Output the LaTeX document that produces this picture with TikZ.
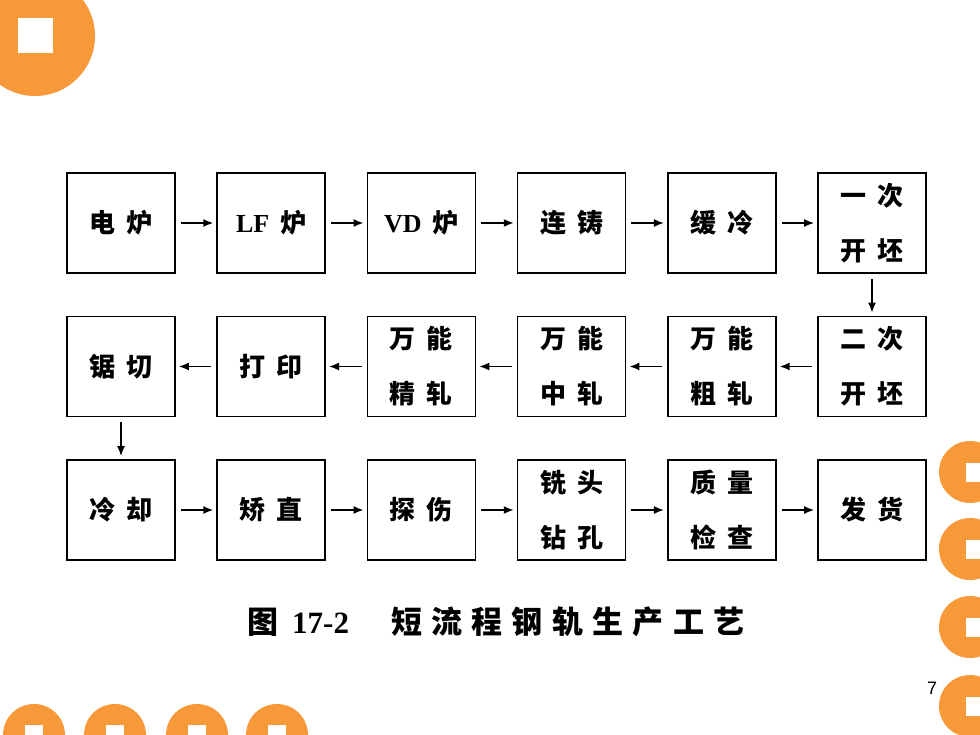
\documentclass[tikz,border=0pt]{standalone}
\usepackage{fontspec}
\setmainfont{Liberation Serif}
\newfontfamily\cjk{Noto Sans CJK SC}
\newfontfamily\pagefont{Liberation Sans}
\usetikzlibrary{math, arrows.meta}
\definecolor{dotorange}{RGB}{247,153,57}

\begin{document}
\begin{tikzpicture}[x=1pt, y=-1pt, >={Latex[length=10pt, width=8pt]}]
\tikzstyle{stage}=[rectangle, draw=black, line width=1.7pt, minimum width=108pt, minimum height=100pt, align=center, inner sep=0pt, font=\fontsize{26}{55}\selectfont\cjk\bfseries\addfontfeature{LetterSpace=42}]
\tikzstyle{kline} = [->, black, line width=1.6pt, shorten <=5pt, shorten >=3pt]
\tikzstyle{dot} = [dotorange]

\useasboundingbox (0, 0) rectangle (980, 735);
\clip (0, 0) rectangle (980, 735);

% Slide decoration
\fill[dot] (35, 36) circle (60);
\fill[white] (17.5, 18) rectangle (52.5, 53);
\foreach \y in {472, 549, 627, 706} {
    \fill[dot] (970, \y) circle (31);
    \fill[white] (965.5, \y - 9.5) rectangle (984.5, \y + 9.5);
};
\foreach \x in {34, 115, 197, 277} {
    \fill[dot] (\x, 735) circle (31);
    \fill[white] (\x - 9, 725) rectangle (\x + 9, 745);
};

% Draw the process stages
\tikzmath{
    \firstx = 121;
    \firsty = 223;
    \colstep = 150.2;
    \rowstep = 143.5;
}

\foreach \id/\txt/\c/\r in {
    eaf/{电炉}/0/0, lf/{{\rmfamily\bfseries LF}\hspace{11pt}炉}/1/0, vd/{{\rmfamily\bfseries VD}\hspace{11pt}炉}/2/0,
    cc/{连铸}/3/0, slow/{缓冷}/4/0, bda/{一次\\开坯}/5/0,
    bdb/{二次\\开坯}/5/1, rough/{万能\\粗轧}/4/1, inter/{万能\\中轧}/3/1,
    finish/{万能\\精轧}/2/1, stamp/{打印}/1/1, saw/{锯切}/0/1,
    cool/{冷却}/0/2, straight/{矫直}/1/2, ut/{探伤}/2/2,
    drill/{铣头\\钻孔}/3/2, qc/{质量\\检查}/4/2, ship/{发货}/5/2}
    \node[stage] (\id) at (\firstx + \c * \colstep, \firsty + \r * \rowstep) {\txt};

% Connect them
\foreach \a/\b in {eaf/lf, lf/vd, vd/cc, cc/slow, slow/bda, bda/bdb,
    bdb/rough, rough/inter, inter/finish, finish/stamp, stamp/saw, saw/cool,
    cool/straight, straight/ut, ut/drill, drill/qc, qc/ship}
    \draw [kline] (\a) -- (\b);

\node [anchor=west, inner sep=0pt, font=\fontsize{31}{34}\selectfont] (caption) at (247, 622) {{\cjk\bfseries 图}\hspace{14pt}\textbf{17-2}\hspace{42pt}{\cjk\bfseries\addfontfeature{LetterSpace=30}短流程钢轨生产工艺}};

\node [font=\pagefont\fontsize{18}{20}\selectfont] (pagenum) at (932, 688) {7};

\end{tikzpicture}
\end{document}
